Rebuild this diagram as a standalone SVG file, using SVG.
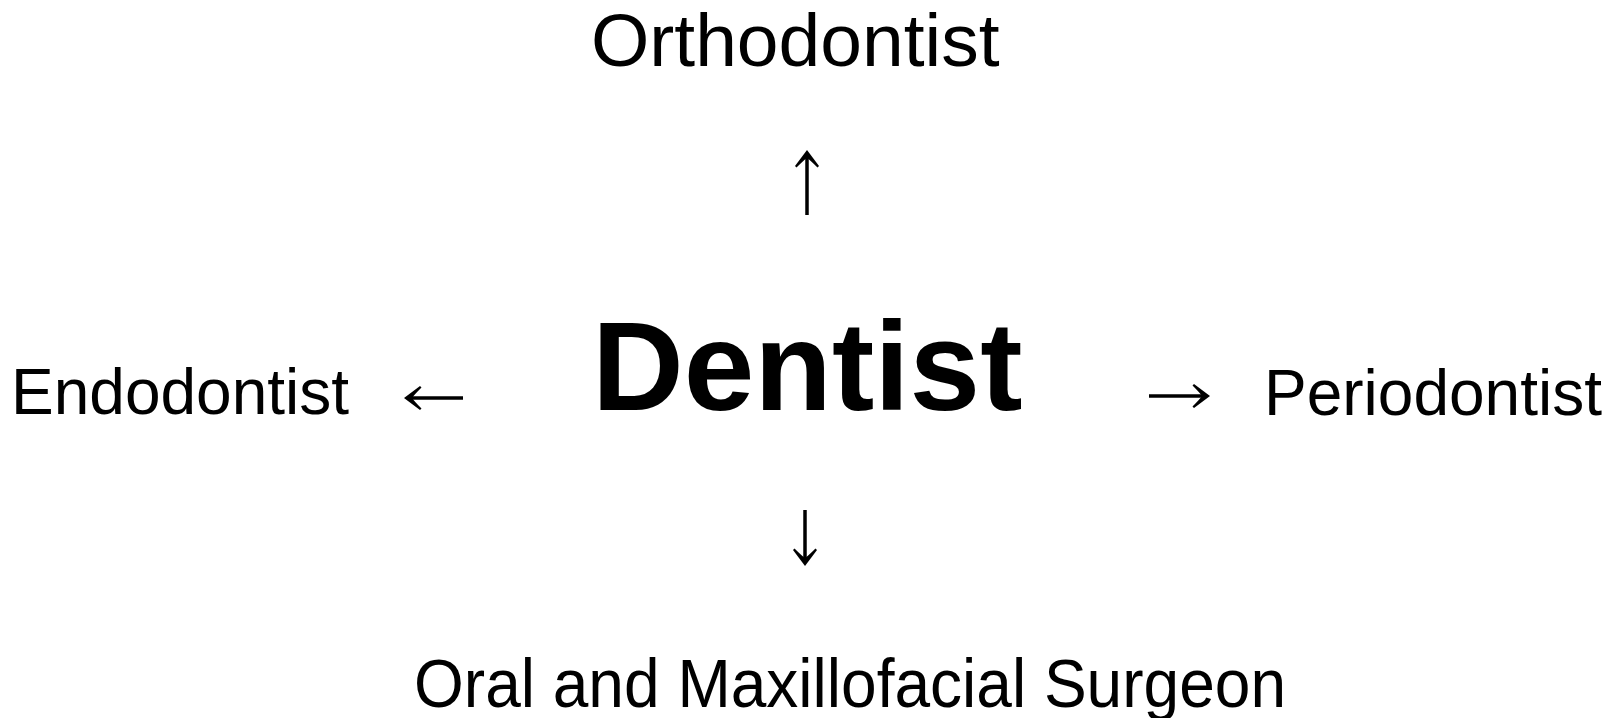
<svg xmlns="http://www.w3.org/2000/svg" width="1616" height="718" viewBox="0 0 1616 718">
<style>
text{font-family:"Liberation Sans",Arial,sans-serif;fill:#000}
.lbl{font-size:64px}
.conn{stroke:#000;stroke-width:3.5;fill:none;marker-end:url(#ah)}
</style>
<defs>
<marker id="ah" viewBox="-18 -14 20 28" refX="-7" refY="0" markerWidth="20" markerHeight="28" markerUnits="userSpaceOnUse" orient="auto">
<path d="M1,0 L-15,-12 L-16.5,-10.5 Q-9,-3 -7,0 Q-9,3 -16.5,10.5 L-15,12 Z" fill="#000"/>
</marker>
</defs>
<rect width="1616" height="718" fill="#fff"/>
<g id="node-dentist"><text x="592" y="410" font-size="127" font-weight="bold">Dentist</text></g>
<g id="node-orthodontist"><text x="591" y="66" font-size="75">Orthodontist</text></g>
<g id="node-endodontist"><text class="lbl" x="11" y="414">Endodontist</text></g>
<g id="node-periodontist"><text class="lbl" x="1264" y="415">Periodontist</text></g>
<g id="node-surgeon"><text x="414" y="707" font-size="68" textLength="872" lengthAdjust="spacingAndGlyphs">Oral and Maxillofacial Surgeon</text></g>
<g id="connectors">
<path class="conn" d="M807,215 L807,158"/>
<path class="conn" d="M463,398 L412,398"/>
<path class="conn" d="M1149,396 L1202,396"/>
<path class="conn" d="M805,510 L805,558"/>
</g>
</svg>
